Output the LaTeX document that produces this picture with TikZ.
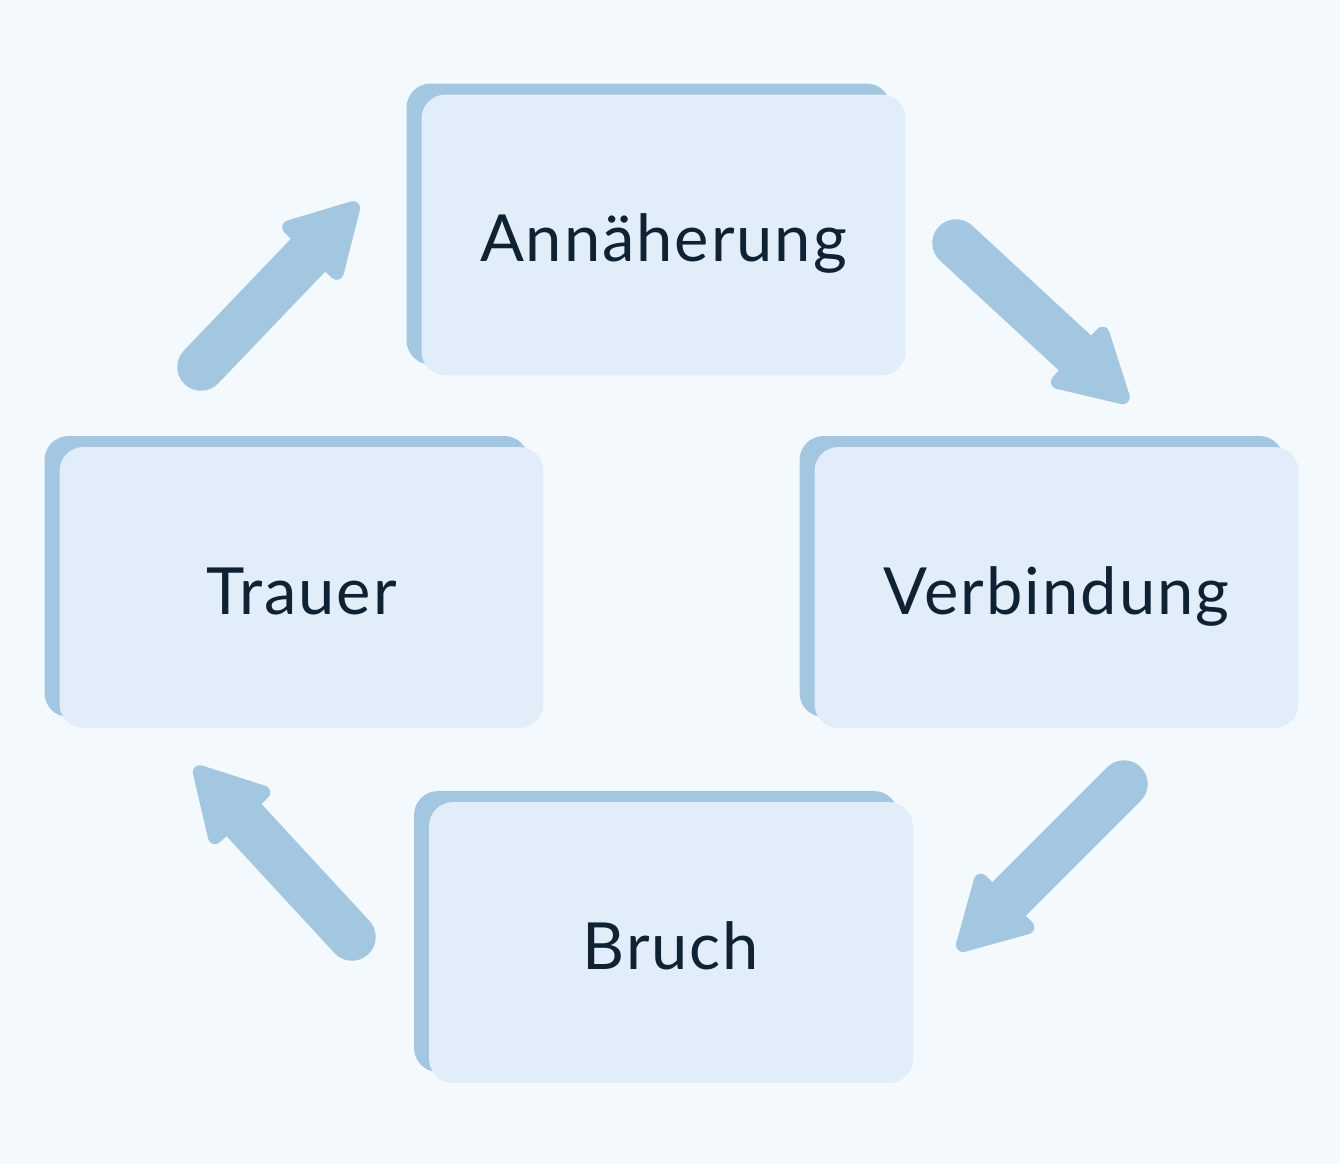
\documentclass[tikz,border=0pt]{standalone}
\usepackage{fontspec}
\setmainfont{Lato}[LetterSpace=3]
\usetikzlibrary{arrows.meta,shadows}

\definecolor{pagebg}{HTML}{F4F9FD}
\definecolor{cardfill}{HTML}{E1EDF8}
\definecolor{cardedge}{HTML}{A3C7E0}
\definecolor{cardink}{HTML}{0E2233}

\begin{document}
\begin{tikzpicture}[x=0.02cm,y=-0.02cm,line cap=round,line join=round,
  stage/.style={fill=cardfill,rounded corners=0.48cm,minimum width=9.68cm,minimum height=5.62cm,
    text=cardink,font=\fontsize{37}{44}\selectfont,text height=37.7pt,text depth=7.4pt,
    drop shadow={shadow xshift=-0.3cm,shadow yshift=0.22cm,fill=cardedge,opacity=1}},
  flow/.style={draw=cardedge,fill=cardedge,line width=0.95cm,
    -{Triangle[round,line width=8pt,length=1.6cm,width=1.72cm]}}]
  \useasboundingbox (0,0) rectangle (1340,1164);
  \fill[pagebg] (0,0) rectangle (1340,1164);

  % the four stages
  \node[stage] (ann)   at (663.5,235)   {Annäherung};
  \node[stage] (verb)  at (1056.5,587.5) {Verbindung};
  \node[stage] (bruch) at (671,942.5)   {Bruch};
  \node[stage] (trau)  at (301.5,587.5) {Trauer};

  % arrow ends
  \coordinate (ann-out)   at (956,243);
  \coordinate (verb-in)   at (1128,402);
  \coordinate (verb-out)  at (1124,784);
  \coordinate (bruch-in)  at (958,950);
  \coordinate (bruch-out) at (352,937);
  \coordinate (trau-in)   at (195,767);
  \coordinate (trau-out)  at (201,367);
  \coordinate (ann-in)    at (358,203);

  \draw[flow] (ann-out) -- (verb-in);
  \draw[flow] (verb-out) -- (bruch-in);
  \draw[flow] (bruch-out) -- (trau-in);
  \draw[flow] (trau-out) -- (ann-in);
\end{tikzpicture}
\end{document}
